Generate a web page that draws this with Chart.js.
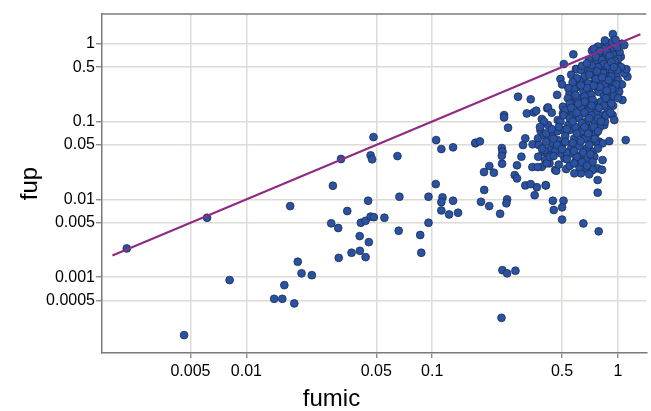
<!DOCTYPE html>
<html><head><meta charset="utf-8">
<script src="https://cdn.jsdelivr.net/npm/chart.js@4"></script>
<style>html,body{margin:0;padding:0;background:#fff;overflow:hidden}#wrap{width:651px;height:411px;position:relative}</style>
</head><body><div id="wrap"><canvas id="c"></canvas></div>
<script>
const xTitle = 'fumic';
const yTitle = 'fup';
const xTicks = [0.005, 0.01, 0.05, 0.1, 0.5, 1];
const xTickLabels = ['0.005', '0.01', '0.05', '0.1', '0.5', '1'];
const yTicks = [0.0005, 0.001, 0.005, 0.01, 0.05, 0.1, 0.5, 1];
const yTickLabels = ['0.0005', '0.001', '0.005', '0.01', '0.05', '0.1', '0.5', '1'];
const xRange = [0.00167, 1.42];
const yRange = [0.000106, 2.41];
const refLineX = [0.0019, 1.32];
const refLineY = [0.0019, 1.32];

const fumic = [
0.00227,0.00614,0.00462,0.00812,0.0172,0.0189,0.0198,0.0225,0.016,0.0141,0.0156,0.0181,
0.0292,0.0323,0.0286,0.0312,0.0349,0.0407,0.0456,0.0314,0.0368,0.0408,0.0438,0.0413,
0.0438,0.0466,0.0485,0.0452,0.0466,0.0475,0.0553,0.065,0.0666,0.066,0.0862,0.0873,
0.0483,0.105,0.112,0.1295,0.1706,0.1045,0.0955,0.0955,0.1136,0.112,0.112,0.1233,0.1295,0.1377,
0.2897,0.339,0.2437,0.2437,0.256,0.323,0.352,0.363,0.416,0.389,0.171,0.1807,0.237,0.239,
0.237,0.2377,0.203,0.19,0.2148,0.1905,0.183,0.2027,0.253,0.2507,0.232,0.308,0.317,0.302,
0.286,0.278,0.286,0.317,0.339,0.366,0.356,0.409,0.446,0.451,0.347,0.346,0.383,0.371,
0.375,0.394,0.42,0.372,0.389,0.428,0.459,0.406,0.446,0.455,0.437,0.399,0.2387,0.253,0.2805,0.236,
0.777,0.509,0.5,0.5,0.651,0.787,
0.938,0.86,0.84,0.9,0.92,0.96,1.05,1.08,0.724,0.575,0.511,0.49,0.594,0.672,0.746,0.777,
0.826,0.897,0.973,1.035,0.994,0.935,0.879,0.809,0.73,0.645,0.607,0.548,0.537,0.582,0.645,0.701,
0.777,0.861,0.935,1.015,1.057,1.1,1.124,1.08,0.897,0.76,0.672,0.62,0.42,0.935,0.955,1.1,
0.897,0.777,0.826,0.73,0.715,0.746,0.777,0.73,0.672,0.632,0.582,0.526,0.465,0.594,0.632,0.559,
0.515,0.494,0.446,0.474,0.428,0.411,0.403,0.414,0.408,0.505,0.548,0.607,0.672,0.645,0.73,0.793,
0.826,0.76,0.844,0.85,0.505,0.537,0.594,0.672,0.73,0.793,0.861,0.645,0.701,0.571,0.505,0.474,
0.446,0.6,0.632,1.11,
0.88,0.92,0.95,0.83,0.79,0.86,0.9,0.97,1.02,0.99,0.76,0.81,0.87,0.93,0.98,0.71,0.74,0.8,0.85,0.91,
0.96,0.66,0.69,0.62,0.58,0.65,0.72,0.79,0.84,0.9,0.94,0.6,0.55,0.63,0.7,0.77,0.83,0.88,0.52,0.57,
0.62,0.68,0.75,0.8,0.49,0.54,0.59,0.64,0.7,0.76,0.47,0.52,0.58,0.66,0.72,0.45,0.5,0.56,0.62,0.68,
0.78,0.53,0.6,0.67,0.73,0.48,0.55,0.62,0.7,0.82,0.86,0.78,0.93,0.85,0.97,0.7,0.64,0.56,0.5,0.47,
0.44,0.42,0.4,0.38,0.39,0.43,0.46,0.37
];
const fup = [
0.00234,0.0058,0.00018,0.000918,0.0082,0.00158,0.00112,0.00106,0.00079,0.000527,0.000527,0.00046,
0.01496,0.033,0.00492,0.00428,0.00708,0.00337,0.00282,0.00177,0.00206,0.00218,0.00181,0.005,
0.0053,0.006,0.0059,0.0096,0.0368,0.0327,0.0058,0.036,0.0108,0.00395,0.00348,0.00206,
0.0632,0.0578,0.0443,0.0466,0.0525,0.0157,0.0108,0.005,0.0106,0.0092,0.0072,0.0064,0.0096,0.00673,
0.2084,0.193,0.121,0.113,0.0832,0.127,0.131,0.138,0.148,0.1077,0.0534,0.0557,0.0456,0.0409,
0.0363,0.0287,0.0268,0.0224,0.022,0.0132,0.0093,0.0082,0.01,0.00889,0.00653,0.0499,0.0608,0.0353,
0.0274,0.0205,0.0186,0.0151,0.0157,0.0143,0.0113,0.0151,0.0096,0.0073,0.0509,0.026,0.0762,0.0608,
0.0499,0.0409,0.0371,0.0353,0.0262,0.029,0.0238,0.032,0.055,0.074,0.0453,0.067,0.00123,0.00112,0.00121,0.0003,
0.0122,0.0096,0.0079,0.0055,0.0049,0.00388,
1.33,1.0,0.95,0.98,0.93,0.96,1.0,0.96,0.813,0.731,0.548,0.352,0.473,0.459,0.532,0.649,
0.753,0.789,0.753,0.68,0.56,0.506,0.417,0.359,0.31,0.341,0.28,0.23,0.199,0.18,0.208,0.242,
0.267,0.28,0.294,0.242,0.189,0.459,0.377,0.417,0.208,0.171,0.155,0.152,0.152,0.121,0.1045,0.0578,
0.056,0.0177,0.032,0.0409,0.0371,0.0353,0.025,0.0238,0.025,0.0216,0.0216,0.0245,0.0233,0.032,0.0371,0.039,
0.0337,0.039,0.0525,0.0578,0.0638,0.0705,0.043,0.029,0.0152,0.0778,0.0778,0.0818,0.0902,0.0705,0.067,0.055,
0.0525,0.055,0.0902,0.1,0.127,0.134,0.115,0.127,0.141,0.155,0.171,0.163,0.18,0.171,0.155,0.1045,
0.074,0.47,0.459,0.47,
0.95,0.88,0.82,0.86,0.72,0.66,0.6,0.7,0.78,0.9,0.58,0.52,0.47,0.44,0.38,0.45,0.39,0.33,0.3,0.33,
0.27,0.38,0.31,0.33,0.26,0.25,0.22,0.24,0.21,0.19,0.16,0.2,0.17,0.15,0.14,0.13,0.12,0.14,0.14,0.12,
0.11,0.1,0.1,0.085,0.1,0.09,0.085,0.075,0.08,0.07,0.075,0.065,0.06,0.06,0.055,0.06,0.05,0.046,0.048,0.045,
0.045,0.04,0.035,0.032,0.03,0.028,0.027,0.026,0.021,0.024,0.6,0.92,1.05,1.1,1.12,0.62,0.52,0.4,0.3,0.22,
0.13,0.09,0.1,0.085,0.045,0.035,0.042,0.026
];
// dense core of the cluster
const fumicCore = [
0.74,0.8,0.87,0.94,1.0,0.82,0.76,0.9,0.96,0.84,
0.78,0.72,0.68,0.88,1.04,0.92,0.99,0.95,0.83,0.77,
0.7,0.92,0.89,0.76,0.82,1.0,1.05,0.98,0.93,0.87,
0.8,0.74,0.68,0.63,0.6,0.57,0.54,0.59,0.66,0.73,
0.81,0.86,0.95,1.0,0.92,0.84,0.79,0.72,0.66,0.61,
0.56,0.51,0.55,0.6,0.66,0.72,0.78,0.86,0.91,0.81,
0.7,0.64,0.57,0.53,0.6,0.69,0.74,0.78,0.66,0.48,
0.44,0.41,0.47,0.52,0.57,0.63,0.7,0.75,0.65,0.71,
0.58,0.5,0.45,0.53,0.64,0.58,0.68
];
const fupCore = [
0.86,0.8,0.78,0.72,0.64,0.62,0.68,0.7,0.6,0.55,
0.5,0.53,0.56,0.52,0.5,0.58,0.46,0.5,0.42,0.44,
0.4,0.38,0.34,0.35,0.37,0.34,0.3,0.3,0.26,0.25,
0.28,0.29,0.27,0.29,0.36,0.32,0.27,0.22,0.21,0.19,
0.18,0.2,0.21,0.2,0.17,0.16,0.15,0.16,0.18,0.17,
0.15,0.12,0.11,0.13,0.13,0.12,0.11,0.12,0.13,0.1,
0.11,0.095,0.1,0.08,0.07,0.07,0.085,0.075,0.085,0.085,
0.08,0.055,0.05,0.055,0.053,0.056,0.05,0.06,0.04,0.038,
0.042,0.044,0.036,0.033,0.03,0.029,0.027
];

const points = fumic.map((x, i) => ({ x: x, y: fup[i] }))
  .concat(fumicCore.map((x, i) => ({ x: x, y: fupCore[i] })));
const refLine = refLineX.map((x, i) => ({ x: x, y: refLineY[i] }));

const FONT = "'Liberation Sans', Arial, Helvetica, sans-serif";
const AXIS = '#7a7a7a';
const GRID = '#dedbd6';

const topFrame = {
  id: 'topFrame',
  beforeDatasetsDraw(ch) {
    const { ctx, chartArea: a } = ch;
    ctx.save();
    ctx.strokeStyle = AXIS; ctx.lineWidth = 1.5;
    ctx.beginPath(); ctx.moveTo(a.left, a.top); ctx.lineTo(a.right, a.top); ctx.stroke();
    ctx.restore();
  }
};

new Chart(document.getElementById('c'), {
  type: 'scatter',
  data: {
    datasets: [
      { type: 'line', label: 'y = x', data: refLine, borderColor: '#8e2c84', borderWidth: 2.2,
        pointRadius: 0, fill: false, order: 0 },
      { label: 'data', data: points, backgroundColor: '#2a52a2', borderColor: '#1c2e55',
        borderWidth: 0.8, pointRadius: 3.9, pointHoverRadius: 3.9, order: 1 }
    ]
  },
  options: {
    responsive: true, maintainAspectRatio: false, animation: false,
    layout: { padding: { left: 12, top: 14, right: 0, bottom: 0 } },
    plugins: {
      legend: { display: false }, tooltip: { enabled: false },
      title: { display: true, text: xTitle, position: 'bottom', color: '#000',
        font: { family: FONT, size: 24, weight: 'normal', lineHeight: 1 }, padding: { top: 0, bottom: 0 } }
    },
    scales: {
      x: {
        type: 'logarithmic', min: xRange[0], max: xRange[1], bounds: 'data',
        afterBuildTicks: s => { s.ticks = xTicks.map(v => ({ value: v })); },
        afterFit: s => { s.height = 34; },
        ticks: { autoSkip: false, maxRotation: 0, padding: 4, color: '#000',
          font: { family: FONT, size: 16 }, callback: (v, i) => xTickLabels[i] },
        grid: { color: GRID, lineWidth: 1.5, tickColor: AXIS, tickLength: 5, tickWidth: 1.2 },
        border: { color: AXIS, width: 1.5 }
      },
      y: {
        type: 'logarithmic', min: yRange[0], max: yRange[1], bounds: 'data',
        afterBuildTicks: s => { s.ticks = yTicks.map(v => ({ value: v })); },
        afterFit: s => { s.width = 90; },
        ticks: { autoSkip: false, padding: 1, color: '#000',
          font: { family: FONT, size: 16 }, callback: (v, i) => yTickLabels[i] },
        grid: { color: GRID, lineWidth: 1.5, tickColor: AXIS, tickLength: 6, tickWidth: 1.2 },
        border: { color: AXIS, width: 1.5 },
        title: { display: true, text: yTitle, color: '#000',
          font: { family: FONT, size: 24, lineHeight: 1 }, padding: { top: 6, bottom: 0 } }
      }
    }
  },
  plugins: [topFrame]
});
</script></body></html>
